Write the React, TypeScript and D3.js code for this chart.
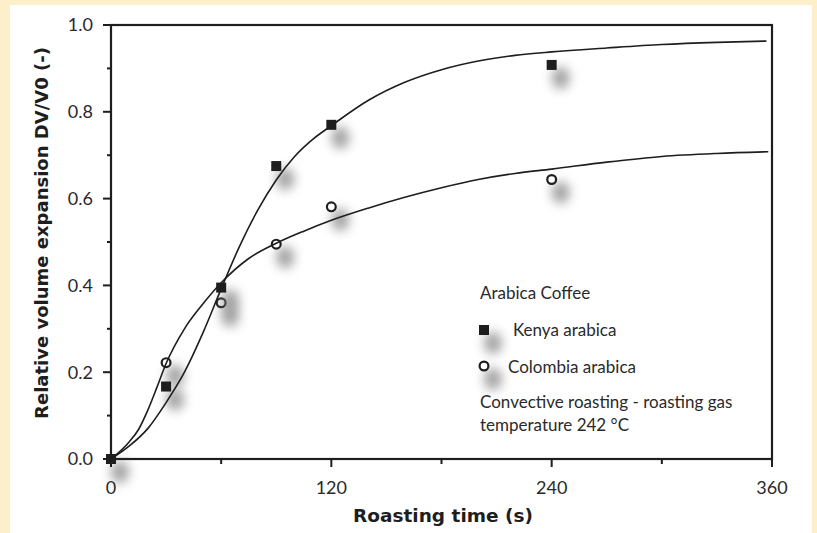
import React from "react";
import * as d3 from "d3";

// Measured points
const kenyaTime = [0, 30, 60, 90, 120, 240];
const kenyaValue = [0, 0.167, 0.395, 0.675, 0.77, 0.908];
const colombiaTime = [30, 60, 90, 120, 240];
const colombiaValue = [0.222, 0.36, 0.495, 0.581, 0.644];

// Fitted model curves (time, value)
const kenyaFitTime = [0, 10, 20, 30, 40, 50, 60, 70, 80, 90, 100, 110, 120, 140, 160, 180, 200, 220, 240, 270, 300, 330, 357];
const kenyaFitValue = [0, 0.03, 0.07, 0.13, 0.2, 0.29, 0.392, 0.49, 0.574, 0.643, 0.697, 0.737, 0.768, 0.826, 0.868, 0.897, 0.917, 0.93, 0.938, 0.947, 0.955, 0.96, 0.963];
const colombiaFitTime = [0, 10, 15, 20, 25, 30, 40, 50, 60, 75, 90, 105, 120, 140, 160, 180, 200, 220, 240, 270, 300, 330, 358];
const colombiaFitValue = [0, 0.04, 0.068, 0.112, 0.165, 0.22, 0.3, 0.357, 0.406, 0.462, 0.497, 0.525, 0.55, 0.578, 0.603, 0.625, 0.644, 0.658, 0.668, 0.684, 0.697, 0.704, 0.708];

const xMajorTicks = [0, 120, 240, 360];
const xMinorTicks = [60, 180, 300];
const yMajorTicks = [0, 0.2, 0.4, 0.6, 0.8, 1.0];
const yMinorTicks = [0.1, 0.3, 0.5, 0.7, 0.9];

const legendTitle = "Arabica Coffee";
const kenyaLabel = "Kenya arabica";
const colombiaLabel = "Colombia arabica";
const noteLines = ["Convective roasting - roasting gas", "temperature 242 °C"];
const xTitle = "Roasting time (s)";
const yTitle = "Relative volume expansion DV/V0 (-)";

const W = 817;
const H = 533;
const plot = { left: 111, right: 772, top: 25, bottom: 459 };
const lightFont = "Lato, 'Open Sans', sans-serif";
const boldFont = "'DejaVu Sans', Verdana, sans-serif";
const ink = "#1e1e1e";

export default function App() {
  const x = d3.scaleLinear().domain([0, 360]).range([plot.left, plot.right]);
  const y = d3.scaleLinear().domain([0, 1]).range([plot.bottom, plot.top]);

  const line = d3
    .line<[number, number]>()
    .x((d) => x(d[0]))
    .y((d) => y(d[1]))
    .curve(d3.curveMonotoneX);

  const kenyaFit = kenyaFitTime.map((t, i) => [t, kenyaFitValue[i]] as [number, number]);
  const colombiaFit = colombiaFitTime.map((t, i) => [t, colombiaFitValue[i]] as [number, number]);

  const sq = 10;
  const r = 4.4;
  const shOff = { dx: 9, dy: 13 };

  const shadow = (cx: number, cy: number) => (
    <ellipse cx={cx + shOff.dx} cy={cy + shOff.dy} rx={9} ry={11} fill="#7a7a7a" opacity={0.7} filter="url(#shadowBlur)" />
  );
  const square = (cx: number, cy: number, key: string) => (
    <g key={key}>
      {shadow(cx, cy)}
      <rect x={cx - sq / 2} y={cy - sq / 2} width={sq} height={sq} fill={ink} />
    </g>
  );
  const circle = (cx: number, cy: number, key: string) => (
    <g key={key}>
      {shadow(cx, cy)}
      <circle cx={cx} cy={cy} r={r} fill="#fff" stroke={ink} strokeWidth={2.2} />
    </g>
  );

  return (
    <svg width={W} height={H} style={{ position: "absolute", left: 0, top: 0, display: "block" }}>
      <defs>
        <filter id="shadowBlur" filterUnits="userSpaceOnUse" x={0} y={0} width={W} height={H}>
          <feGaussianBlur stdDeviation={5.5} />
        </filter>
      </defs>
      <rect x={0} y={0} width={W} height={H} fill="#fcefc9" />
      <rect x={10} y={5} width={802} height={H} fill="#ffffff" />

      {/* markers with their soft shadows, curves drawn over them */}
      {colombiaTime.map((t, i) => circle(x(t), y(colombiaValue[i]), "c" + i))}
      {kenyaTime.map((t, i) => square(x(t), y(kenyaValue[i]), "k" + i))}

      <path d={line(kenyaFit) ?? ""} fill="none" stroke={ink} strokeWidth={1.6} />
      <path d={line(colombiaFit) ?? ""} fill="none" stroke={ink} strokeWidth={1.6} />

      {/* frame */}
      <rect x={plot.left} y={plot.top} width={plot.right - plot.left} height={plot.bottom - plot.top} fill="none" stroke={ink} strokeWidth={2.2} />

      {/* y ticks */}
      {yMajorTicks.map((v) => (
        <g key={"ym" + v}>
          <line x1={plot.left - 8} x2={plot.left} y1={y(v)} y2={y(v)} stroke={ink} strokeWidth={2} />
          <text x={93} y={y(v)} dy="0.36em" textAnchor="end" fontFamily={lightFont} fontSize={18} fill="#2a2a2a">
            {v.toFixed(1)}
          </text>
        </g>
      ))}
      {yMinorTicks.map((v) => (
        <line key={"yn" + v} x1={plot.left - 4} x2={plot.left} y1={y(v)} y2={y(v)} stroke={ink} strokeWidth={2} />
      ))}

      {/* x ticks */}
      {xMajorTicks.map((v) => (
        <g key={"xm" + v}>
          <line x1={x(v)} x2={x(v)} y1={plot.bottom} y2={plot.bottom + 8} stroke={ink} strokeWidth={2} />
          <text x={x(v)} y={488} dy="0.36em" textAnchor="middle" fontFamily={lightFont} fontSize={18} fill="#2a2a2a">
            {v}
          </text>
        </g>
      ))}
      {xMinorTicks.map((v) => (
        <line key={"xn" + v} x1={x(v)} x2={x(v)} y1={plot.bottom} y2={plot.bottom + 5} stroke={ink} strokeWidth={2} />
      ))}

      {/* axis titles */}
      <text x={443} y={522} textAnchor="middle" fontFamily={boldFont} fontWeight="bold" fontSize={18.5} fill={ink}>
        {xTitle}
      </text>
      <text
        transform={`translate(48, ${(plot.top + plot.bottom) / 2 - 9}) rotate(-90)`}
        textAnchor="middle"
        fontFamily={boldFont}
        fontWeight="bold"
        fontSize={18}
        fill={ink}
      >
        {yTitle}
      </text>

      {/* legend */}
      <text x={480} y={293} dy="0.36em" fontFamily={lightFont} fontSize={17} fill="#2a2a2a">{legendTitle}</text>
      {square(484, 330, "legk")}
      <text x={513} y={330} dy="0.36em" fontFamily={lightFont} fontSize={17} fill="#2a2a2a">{kenyaLabel}</text>
      {circle(484, 366, "legc")}
      <text x={508} y={367} dy="0.36em" fontFamily={lightFont} fontSize={17} fill="#2a2a2a">{colombiaLabel}</text>
      {noteLines.map((s, i) => (
        <text key={s} x={480} y={402 + i * 23} dy="0.36em" fontFamily={lightFont} fontSize={17} fill="#2a2a2a">{s}</text>
      ))}
    </svg>
  );
}
